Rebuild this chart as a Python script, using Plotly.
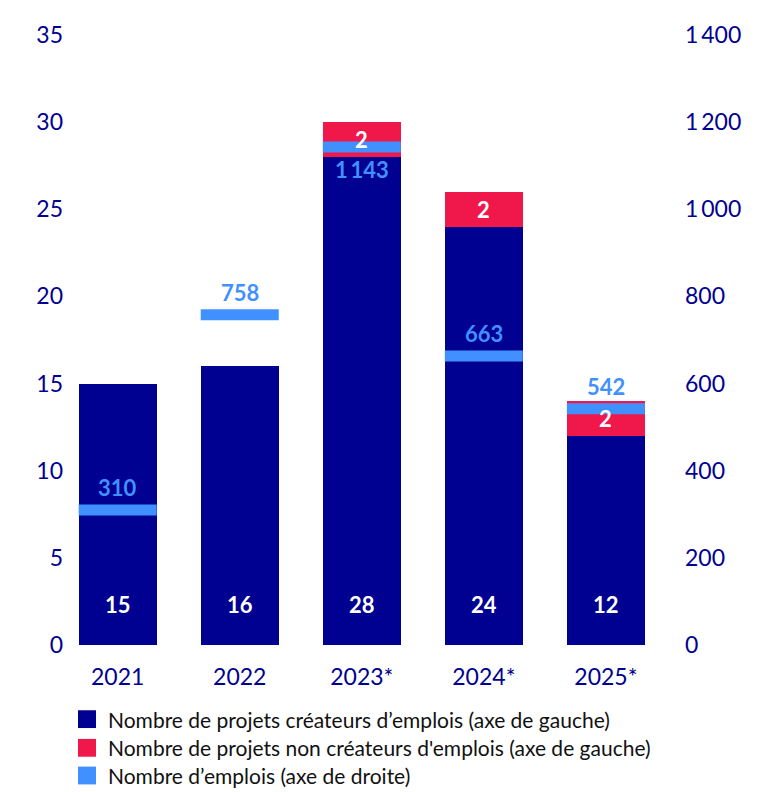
import plotly.graph_objects as go

# ---- data ----
years = ["2021", "2022", "2023*", "2024*", "2025*"]
projets_createurs = [15, 16, 28, 24, 12]
projets_non_createurs = [0, 0, 2, 2, 2]
emplois = [310, 758, 1143, 663, 542]
emplois_labels = ["310", "758", "1\u2009143", "663", "542"]
emplois_label_side = ["above", "above", "below", "above", "above"]
left_ticks = [0, 5, 10, 15, 20, 25, 30, 35]
right_ticks = [0, 200, 400, 600, 800, 1000, 1200, 1400]
right_tick_labels = ["0", "200", "400", "600", "800", "1\u2009000", "1\u2009200", "1\u2009400"]
legend_labels = [
    "Nombre de projets créateurs d’emplois (axe de gauche)",
    "Nombre de projets non créateurs d'emplois (axe de gauche)",
    "Nombre d’emplois (axe de droite)",
]

NAVY = "#000091"
RED = "#F0174B"
BLUE = "#4190FF"
FONT = "Lato"

# page has an 8px body margin: work in figure coordinates = page pixels - 8
OFF = 8
W, H = 780 - OFF, 792 - OFF
L, R, T, B = 64 - OFF, 684 - OFF, 28 - OFF, 645 - OFF
BAR_PX = 78

fig = go.Figure()
fig.add_trace(go.Bar(x=years, y=projets_createurs, marker_color=NAVY,
                     marker_line_width=0, showlegend=False, hoverinfo="skip"))
fig.add_trace(go.Bar(x=years, y=projets_non_createurs, marker_color=RED,
                     marker_line_width=0, showlegend=False, hoverinfo="skip"))
fig.add_trace(go.Scatter(x=years, y=emplois, yaxis="y2", mode="markers",
                         marker=dict(symbol="line-ew", size=BAR_PX / 1.4,
                                     line=dict(width=11, color=BLUE)),
                         showlegend=False, hoverinfo="skip"))

ann = []
for i, v in enumerate(projets_createurs):
    ann.append(dict(x=i, y=2.3, xref="x", yref="y", text=f"<b>{v}</b>",
                    showarrow=False, font=dict(color="white", size=22, family=FONT)))
for i, (base, v) in enumerate(zip(projets_createurs, projets_non_createurs)):
    if v:
        ann.append(dict(x=i, y=base + v / 2, xref="x", yref="y", text=f"<b>{v}</b>",
                        showarrow=False, font=dict(color="white", size=22, family=FONT)))
for i, (v, lab, side) in enumerate(zip(emplois, emplois_labels, emplois_label_side)):
    if side == "above":
        ann.append(dict(x=i, y=v, xref="x", yref="y2", text=f"<b>{lab}</b>",
                        showarrow=False, yanchor="bottom", yshift=7,
                        font=dict(color=BLUE, size=22, family=FONT)))
    else:
        ann.append(dict(x=i, y=v, xref="x", yref="y2", text=f"<b>{lab}</b>",
                        showarrow=False, yanchor="top", yshift=-7,
                        font=dict(color=BLUE, size=22, family=FONT)))

# manual legend
pw, ph = R - L, B - T
def px_x(px):
    return (px - OFF - L) / pw
def px_y(py):
    return (B - (py - OFF)) / ph

shapes = []
leg_colors = [NAVY, RED, BLUE]
leg_y = [720, 749, 777]
for col, lab, cy in zip(leg_colors, legend_labels, leg_y):
    shapes.append(dict(type="rect", xref="paper", yref="paper",
                       x0=px_x(78), x1=px_x(96), y0=px_y(cy + 9), y1=px_y(cy - 9),
                       fillcolor=col, line_width=0))
    ann.append(dict(x=px_x(106), y=px_y(cy), xref="paper", yref="paper",
                    text=lab, showarrow=False, xanchor="left", yanchor="middle",
                    font=dict(color="#111111", size=21, family=FONT)))

fig.update_layout(
    width=W, height=H,
    margin=dict(l=L, r=W - R, t=T, b=H - B, pad=0),
    paper_bgcolor="white", plot_bgcolor="white",
    barmode="stack", bargap=1 - BAR_PX / 122,
    font=dict(family=FONT, color=NAVY, size=22),
    xaxis=dict(type="category", range=[-0.44, 4.64], showgrid=False, zeroline=False,
               showline=False, ticks="", ticklabelstandoff=16,
               tickfont=dict(size=23, color=NAVY, family=FONT)),
    yaxis=dict(range=[0, 35], tickvals=left_ticks, showgrid=False, zeroline=False,
               showline=False, ticks="", tickfont=dict(size=23, color=NAVY, family=FONT)),
    yaxis2=dict(range=[0, 1400], overlaying="y", side="right", tickvals=right_ticks,
                ticktext=right_tick_labels, showgrid=False, zeroline=False,
                showline=False, ticks="",
                tickfont=dict(size=23, color=NAVY, family=FONT)),
    annotations=ann, shapes=shapes,
)

fig.write_html("out.html")
